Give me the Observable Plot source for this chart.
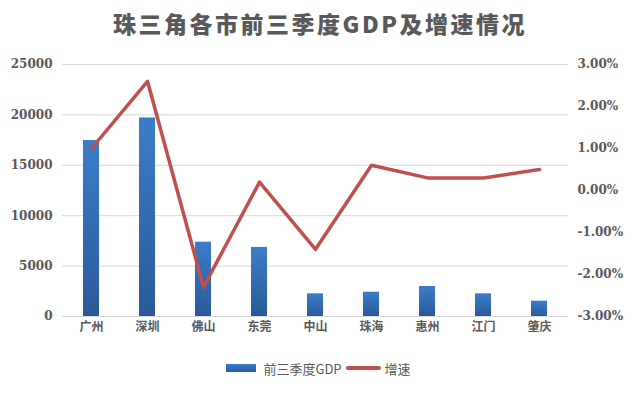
<!DOCTYPE html>
<html>
<head>
<meta charset="utf-8">
<script src="https://cdn.jsdelivr.net/npm/d3@7"></script>
<script src="https://cdn.jsdelivr.net/npm/@observablehq/plot@0.6"></script>
<style>
  body { margin: 0; background: #fff; width: 640px; height: 393px; overflow: hidden; }
  #title { height: 50px; line-height: 46px; text-align: center; font-family: "Noto Sans CJK SC", sans-serif; font-weight: 900; font-size: 23px; letter-spacing: 2.5px; color: #595959; }
  #legend { height: 36px; display: flex; align-items: center; justify-content: center; font-family: "Noto Sans CJK SC", "Noto Sans", sans-serif; font-size: 13px; color: #595959; padding-right: 3px; }
  .sw { display: inline-block; }
</style>
</head>
<body>
<div id="title">珠三角各市前三季度GDP及增速情况</div>
<div id="chart"></div>
<div id="legend">
  <span class="sw" style="width:30px;height:8px;background:linear-gradient(#3a7cc8,#2b5c9a);margin-right:7px"></span>
  <span>前三季度GDP</span>
  <span class="sw" style="width:35px;height:4px;background:#c0504d;border-radius:2px;margin:0 4px 0 4px"></span>
  <span>增速</span>
</div>
<script>
const cities = ["广州", "深圳", "佛山", "东莞", "中山", "珠海", "惠州", "江门", "肇庆"];
const gdpValues = [17460, 19700, 7370, 6850, 2250, 2410, 2980, 2250, 1520];
const growthRates = [1.0, 2.6, -2.3, 0.2, -1.4, 0.6, 0.3, 0.3, 0.5]; // percent
const leftTicks = [0, 5000, 10000, 15000, 20000, 25000];
const rightTicks = [-3, -2, -1, 0, 1, 2, 3];

const gdpMax = 25000, rateMin = -3, rateMax = 3;
const toY = p => (p - rateMin) / (rateMax - rateMin) * gdpMax;
const fromY = v => v / gdpMax * (rateMax - rateMin) + rateMin;

const data = cities.map((c, i) => ({city: c, gdp: gdpValues[i], rate: growthRates[i]}));

const defs = () => {
  const d = d3.create("svg:defs");
  const g = d.append("linearGradient").attr("id", "barGrad").attr("x1", 0).attr("y1", 0).attr("x2", 0).attr("y2", 1);
  g.append("stop").attr("offset", "0%").attr("stop-color", "#3b7dca");
  g.append("stop").attr("offset", "100%").attr("stop-color", "#2a5a98");
  return d.node();
};

const chart = Plot.plot({
  width: 640,
  height: 300,
  marginTop: 14,
  marginBottom: 34,
  marginLeft: 62,
  marginRight: 72,
  style: {fontFamily: "DejaVu Serif", fontSize: "12px", fontWeight: "bold", color: "#595959", background: "#fff"},
  x: {domain: cities, paddingInner: 0.72, paddingOuter: 0.36, align: 0.5},
  y: {domain: [0, gdpMax]},
  marks: [
    defs,
    Plot.gridY(leftTicks, {stroke: "#d9d9d9", strokeOpacity: 1, strokeWidth: 1}),
    Plot.barY(data, {x: "city", y: "gdp", fill: "url(#barGrad)"}),
    Plot.line(data, {x: "city", y: d => toY(d.rate), stroke: "#c0504d", strokeWidth: 3.5, strokeLinejoin: "round", strokeLinecap: "round"}),
    Plot.axisY(leftTicks, {anchor: "left", tickSize: 0, tickPadding: 10, tickFormat: d => String(d), label: null}),
    Plot.axisY(rightTicks.map(toY), {anchor: "right", tickSize: 0, tickPadding: 9, label: null,
      tickFormat: v => { const p = Math.round(fromY(v) * 100) / 100; return (p < 0 ? "-" : "") + Math.abs(p).toFixed(2) + "%"; }}),
    Plot.axisX({tickSize: 0, tickPadding: 6, label: null, fontFamily: "Noto Sans CJK SC", fontWeight: "bold", fontSize: 12})
  ]
});
document.getElementById("chart").appendChild(chart);
</script>
</body>
</html>
